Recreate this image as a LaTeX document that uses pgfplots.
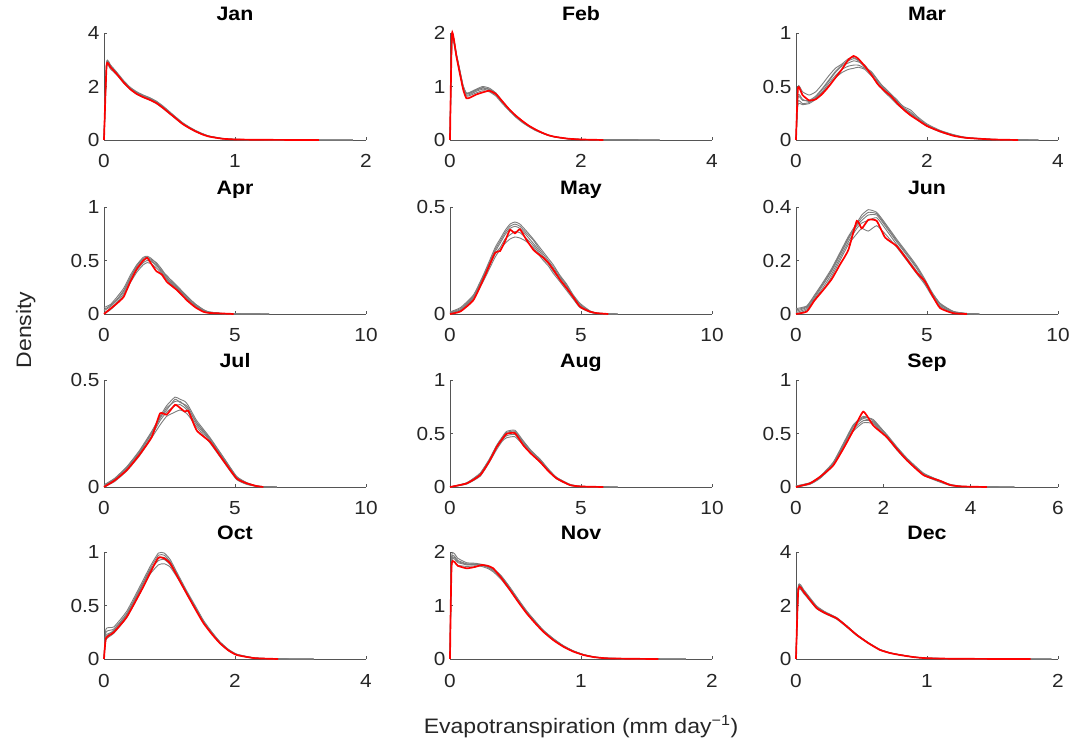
\documentclass[border=0pt]{standalone}
\usepackage{fontspec}
\setmainfont{Liberation Sans}[FakeStretch=1.1]
\usepackage{pgfplots}
\usepackage{pgfplotstable}
\pgfplotsset{compat=1.18}

\definecolor{ens}{RGB}{125,125,125}
\definecolor{axisgray}{RGB}{85,85,85}
\definecolor{tickgray}{RGB}{38,38,38}

\newcommand{\tickfont}{\fontsize{19}{21}\selectfont}
\newcommand{\titlefont}{\fontsize{19.5}{22}\selectfont\bfseries}
\newcommand{\labelfont}{\fontsize{21}{25}\selectfont}

% x, five ensemble members (g1..g5), observed density (r)
\pgfplotstableread{
x     g1    g2    g3    g4    g5    r
0     0     0     0     0     0     0
0.02  2.90  2.84  2.78  2.72  2.87  2.80
0.05  2.80  2.76  2.70  2.65  2.78  2.72
0.1   2.52  2.49  2.46  2.42  2.50  2.45
0.15  2.22  2.19  2.17  2.13  2.20  2.15
0.2   1.97  1.95  1.92  1.89  1.96  1.90
0.25  1.80  1.77  1.75  1.71  1.79  1.72
0.3   1.68  1.65  1.63  1.59  1.67  1.60
0.35  1.58  1.55  1.53  1.49  1.57  1.50
0.4   1.45  1.42  1.40  1.36  1.44  1.38
0.45  1.27  1.24  1.22  1.18  1.26  1.20
0.5   1.06  1.03  1.01  0.98  1.05  1.00
0.55  0.85  0.83  0.81  0.78  0.84  0.80
0.6   0.65  0.63  0.62  0.59  0.64  0.60
0.65  0.49  0.47  0.46  0.44  0.48  0.45
0.7   0.35  0.34  0.33  0.31  0.35  0.32
0.75  0.24  0.23  0.22  0.21  0.24  0.21
0.8   0.15  0.14  0.14  0.13  0.15  0.13
0.9   0.06  0.055 0.05  0.045 0.06  0.05
1.0   0.025 0.022 0.02  0.018 0.024 0.02
1.2   0.01  0.009 0.008 0.007 0.01  0.008
1.4   0.004 0.003 0.003 0.002 0.004 0.003
1.64  0.001 0.001 0.001 0     0.001 0
1.9   0     0     0     0     0     nan
}\tabJan

\pgfplotstableread{
x     g1    g2    g3    g4    g5    r
0     0     0     0     0     0     0
0.03  1.98  1.95  1.92  1.88  1.96  1.99
0.1   1.60  1.58  1.56  1.53  1.59  1.55
0.2   1.02  1.00  0.98  0.96  1.01  0.95
0.25  0.88  0.86  0.84  0.82  0.87  0.78
0.3   0.89  0.87  0.85  0.83  0.88  0.79
0.4   0.95  0.93  0.91  0.88  0.94  0.85
0.5   1.00  0.97  0.95  0.92  0.98  0.89
0.6   0.97  0.94  0.92  0.90  0.95  0.92
0.7   0.88  0.86  0.84  0.82  0.87  0.86
0.8   0.73  0.71  0.70  0.68  0.72  0.72
0.9   0.58  0.57  0.56  0.55  0.58  0.58
1.0   0.46  0.45  0.44  0.43  0.46  0.46
1.1   0.36  0.35  0.34  0.33  0.36  0.36
1.2   0.27  0.26  0.26  0.25  0.27  0.27
1.3   0.20  0.19  0.19  0.18  0.20  0.20
1.4   0.14  0.135 0.13  0.13  0.14  0.14
1.5   0.095 0.09  0.09  0.085 0.09  0.09
1.6   0.06  0.06  0.055 0.055 0.06  0.06
1.8   0.025 0.024 0.022 0.02  0.025 0.025
2.0   0.01  0.01  0.009 0.008 0.01  0.01
2.34  0.003 0.003 0.002 0.002 0.003 0
2.8   0.001 0.001 0.001 0     0.001 nan
3.2   0     0     0     0     0     nan
}\tabFeb

\pgfplotstableread{
x     g1    g2    g3    g4    g5    r
0     0     0     0     0     0     0
0.03  0.50  0.42  0.36  0.33  0.40  0.49
0.1   0.45  0.38  0.34  0.33  0.37  0.42
0.2   0.42  0.36  0.35  0.34  0.37  0.37
0.3   0.45  0.40  0.39  0.38  0.41  0.38
0.4   0.52  0.47  0.45  0.44  0.48  0.43
0.5   0.60  0.55  0.53  0.51  0.56  0.50
0.6   0.67  0.63  0.60  0.58  0.64  0.58
0.7   0.71  0.69  0.66  0.63  0.70  0.66
0.8   0.76  0.72  0.69  0.66  0.74  0.75
0.88  0.77  0.74  0.70  0.67  0.76  0.785
0.95  0.74  0.73  0.70  0.68  0.75  0.76
1.05  0.68  0.70  0.67  0.66  0.69  0.69
1.15  0.64  0.62  0.63  0.60  0.61  0.61
1.25  0.56  0.53  0.55  0.54  0.52  0.52
1.35  0.48  0.46  0.49  0.47  0.45  0.46
1.45  0.42  0.40  0.43  0.41  0.39  0.41
1.55  0.36  0.34  0.37  0.35  0.33  0.34
1.65  0.31  0.29  0.30  0.29  0.28  0.28
1.75  0.28  0.25  0.26  0.24  0.24  0.23
1.85  0.22  0.20  0.21  0.19  0.19  0.19
2.0   0.15  0.14  0.14  0.13  0.13  0.13
2.2   0.09  0.08  0.085 0.08  0.075 0.08
2.4   0.05  0.045 0.05  0.045 0.04  0.04
2.6   0.02  0.02  0.025 0.02  0.018 0.02
3.0   0.006 0.005 0.006 0.005 0.004 0.005
3.39  0.001 0.001 0.001 0.001 0     0
3.7   0     0     0     0     0     nan
}\tabMar

\pgfplotstableread{
x     g1    g2    g3    g4    g5    r
0     0.06  0.03  0.01  0     0.04  0
0.25  0.09  0.07  0.05  0.04  0.08  0.05
0.5   0.16  0.13  0.11  0.10  0.14  0.10
0.75  0.24  0.21  0.19  0.17  0.22  0.16
1.0   0.36  0.33  0.31  0.29  0.34  0.30
1.25  0.46  0.44  0.41  0.39  0.45  0.42
1.5   0.53  0.50  0.48  0.46  0.52  0.50
1.65  0.54  0.52  0.50  0.48  0.53  0.525
1.8   0.52  0.50  0.49  0.47  0.51  0.47
2.0   0.47  0.45  0.46  0.43  0.48  0.40
2.2   0.40  0.41  0.39  0.38  0.42  0.37
2.4   0.36  0.34  0.33  0.32  0.35  0.30
2.6   0.30  0.28  0.29  0.27  0.31  0.26
2.8   0.25  0.23  0.24  0.22  0.26  0.22
3.0   0.20  0.18  0.19  0.17  0.21  0.17
3.2   0.15  0.13  0.14  0.13  0.16  0.12
3.5   0.09  0.08  0.08  0.07  0.09  0.06
3.8   0.04  0.03  0.035 0.03  0.04  0.02
4.0   0.02  0.015 0.015 0.012 0.02  0.01
4.5   0.005 0.004 0.004 0.003 0.005 0.005
4.95  0.002 0.001 0.001 0.001 0.002 0
5.5   0.001 0     0     0     0.001 nan
6.3   0     0     0     0     0     nan
}\tabApr

\pgfplotstableread{
x     g1    g2    g3    g4    g5    r
0     0.01  0.005 0.003 0     0.008 0
0.4   0.03  0.02  0.018 0.015 0.025 0.012
0.9   0.09  0.08  0.075 0.07  0.085 0.066
1.3   0.19  0.18  0.17  0.16  0.185 0.17
1.72  0.31  0.29  0.28  0.265 0.30  0.286
1.91  0.35  0.33  0.31  0.30  0.34  0.294
2.1   0.39  0.37  0.35  0.33  0.38  0.34
2.29  0.42  0.40  0.37  0.35  0.41  0.393
2.48  0.43  0.41  0.385 0.36  0.42  0.377
2.67  0.42  0.40  0.38  0.355 0.41  0.396
2.9   0.39  0.37  0.355 0.34  0.38  0.35
3.18  0.35  0.33  0.32  0.31  0.345 0.30
3.37  0.32  0.30  0.29  0.28  0.31  0.28
3.56  0.29  0.27  0.26  0.25  0.28  0.263
3.75  0.26  0.24  0.235 0.225 0.25  0.24
3.94  0.23  0.21  0.20  0.19  0.22  0.208
4.2   0.18  0.17  0.16  0.15  0.175 0.16
4.45  0.14  0.13  0.12  0.11  0.135 0.121
4.7   0.09  0.08  0.075 0.07  0.085 0.08
4.96  0.05  0.04  0.035 0.03  0.045 0.034
5.34  0.015 0.012 0.01  0.008 0.013 0.011
5.6   0.005 0.004 0.003 0.002 0.004 0.004
6.04  0.001 0     0     0     0.001 0
6.4   0     0     0     0     0     nan
}\tabMay

\pgfplotstableread{
x     g1    g2    g3    g4    g5    r
0     0.02  0.01  0.005 0     0.015 0
0.41  0.03  0.025 0.02  0.015 0.028 0.009
0.7   0.07  0.06  0.055 0.05  0.065 0.05
1.04  0.12  0.11  0.10  0.09  0.115 0.09
1.36  0.17  0.16  0.15  0.14  0.165 0.13
1.68  0.23  0.22  0.21  0.20  0.225 0.185
2.0   0.29  0.28  0.27  0.26  0.285 0.24
2.32  0.34  0.33  0.32  0.30  0.335 0.348
2.51  0.37  0.35  0.34  0.32  0.36  0.32
2.76  0.39  0.37  0.35  0.31  0.38  0.352
3.08  0.38  0.37  0.36  0.33  0.375 0.348
3.4   0.34  0.33  0.32  0.30  0.335 0.286
3.84  0.28  0.27  0.26  0.25  0.275 0.254
4.23  0.23  0.22  0.21  0.20  0.225 0.204
4.61  0.18  0.17  0.16  0.15  0.175 0.154
4.92  0.13  0.12  0.115 0.11  0.125 0.122
5.2   0.08  0.075 0.07  0.065 0.078 0.07
5.5   0.04  0.035 0.03  0.028 0.038 0.022
6.0   0.01  0.008 0.006 0.005 0.009 0.003
6.52  0.002 0.001 0.001 0     0.002 0
7.0   0     0     0     0     0     nan
}\tabJun

\pgfplotstableread{
x     g1    g2    g3    g4    g5    r
0     0.01  0.005 0     0     0.008 0
0.4   0.04  0.035 0.03  0.025 0.038 0.03
0.87  0.095 0.09  0.085 0.075 0.092 0.079
1.35  0.17  0.16  0.155 0.145 0.165 0.15
1.82  0.26  0.25  0.24  0.23  0.255 0.233
2.14  0.33  0.32  0.31  0.29  0.325 0.344
2.39  0.38  0.37  0.35  0.33  0.36  0.338
2.71  0.42  0.40  0.38  0.35  0.41  0.384
2.9   0.41  0.40  0.385 0.36  0.395 0.37
3.09  0.40  0.38  0.37  0.35  0.385 0.352
3.22  0.38  0.36  0.35  0.335 0.37  0.356
3.54  0.31  0.30  0.29  0.28  0.30  0.264
4.05  0.23  0.22  0.215 0.205 0.225 0.21
4.55  0.14  0.135 0.13  0.12  0.14  0.125
5.06  0.05  0.045 0.04  0.035 0.048 0.04
5.45  0.02  0.018 0.015 0.012 0.02  0.017
5.8   0.006 0.005 0.004 0.003 0.006 0.005
6.08  0.002 0.001 0.001 0     0.002 0
6.6   0     0     0     0     0     nan
}\tabJul

\pgfplotstableread{
x     g1    g2    g3    g4    g5    r
0     0     0     0     0     0     0
0.64  0.04  0.035 0.03  0.028 0.038 0.034
1.15  0.13  0.12  0.11  0.10  0.125 0.111
1.5   0.26  0.25  0.24  0.23  0.255 0.24
1.78  0.39  0.38  0.37  0.35  0.385 0.373
2.0   0.47  0.46  0.44  0.43  0.465 0.45
2.16  0.52  0.50  0.48  0.46  0.51  0.497
2.48  0.53  0.51  0.49  0.47  0.52  0.503
2.8   0.43  0.41  0.40  0.39  0.42  0.389
3.1   0.34  0.33  0.32  0.31  0.335 0.31
3.44  0.26  0.25  0.24  0.23  0.255 0.234
3.75  0.17  0.16  0.155 0.15  0.165 0.15
4.07  0.09  0.085 0.08  0.075 0.088 0.08
4.58  0.025 0.02  0.018 0.015 0.022 0.018
5.0   0.007 0.005 0.004 0.003 0.006 0.005
5.85  0.001 0     0     0     0.001 0
6.4   0     0     0     0     0     nan
}\tabAug

\pgfplotstableread{
x     g1    g2    g3    g4    g5    r
0     0.01  0.005 0     0     0.008 0
0.32  0.04  0.035 0.03  0.025 0.038 0.034
0.55  0.10  0.09  0.085 0.08  0.095 0.095
0.85  0.23  0.22  0.21  0.20  0.225 0.2
1.1   0.42  0.40  0.39  0.37  0.41  0.37
1.31  0.58  0.56  0.54  0.52  0.57  0.528
1.54  0.66  0.64  0.62  0.60  0.65  0.704
1.77  0.62  0.60  0.61  0.59  0.63  0.574
2.08  0.49  0.47  0.48  0.46  0.485 0.466
2.3   0.38  0.37  0.36  0.35  0.375 0.36
2.54  0.27  0.26  0.255 0.245 0.265 0.25
2.92  0.13  0.12  0.115 0.11  0.125 0.111
3.3   0.06  0.055 0.05  0.045 0.058 0.058
3.53  0.025 0.02  0.018 0.015 0.022 0.018
3.8   0.007 0.005 0.004 0.003 0.006 0.005
4.37  0.001 0.001 0     0     0.001 0
5.0   0     0     0     0     0     nan
}\tabSep

\pgfplotstableread{
x     g1    g2    g3    g4    g5    r
0     0     0     0     0     0     0
0.03  0.28  0.25  0.22  0.18  0.20  0.193
0.15  0.30  0.28  0.26  0.24  0.27  0.25
0.35  0.45  0.43  0.41  0.39  0.42  0.395
0.6   0.74  0.72  0.70  0.67  0.71  0.676
0.7   0.86  0.84  0.82  0.79  0.83  0.80
0.83  0.99  0.97  0.94  0.88  0.92  0.947
0.92  0.99  0.97  0.95  0.89  0.93  0.94
1.01  0.93  0.91  0.90  0.86  0.88  0.894
1.13  0.79  0.78  0.77  0.75  0.76  0.76
1.26  0.64  0.63  0.62  0.61  0.625 0.614
1.4   0.49  0.48  0.47  0.46  0.475 0.46
1.52  0.36  0.35  0.345 0.34  0.35  0.334
1.65  0.25  0.245 0.24  0.235 0.245 0.23
1.77  0.16  0.155 0.15  0.145 0.16  0.147
1.9   0.09  0.085 0.08  0.078 0.088 0.08
2.03  0.045 0.04  0.038 0.036 0.042 0.037
2.3   0.01  0.009 0.008 0.007 0.01  0.008
2.66  0.001 0.001 0.001 0     0.001 0
3.2   0     0     0     0     0     nan
}\tabOct

\pgfplotstableread{
x     g1    g2    g3    g4    g5    r
0     0     0     0     0     0     0
0.013 1.93  1.88  1.82  1.76  1.85  1.776
0.06  1.88  1.84  1.80  1.75  1.82  1.74
0.127 1.80  1.78  1.76  1.73  1.77  1.695
0.19  1.79  1.78  1.76  1.74  1.77  1.72
0.242 1.77  1.76  1.75  1.73  1.76  1.757
0.29  1.74  1.72  1.71  1.69  1.73  1.74
0.33  1.69  1.67  1.65  1.63  1.68  1.695
0.39  1.56  1.53  1.51  1.49  1.55  1.52
0.458 1.34  1.32  1.30  1.28  1.33  1.29
0.52  1.12  1.10  1.09  1.07  1.11  1.07
0.585 0.90  0.88  0.87  0.86  0.89  0.854
0.65  0.71  0.70  0.69  0.68  0.705 0.67
0.712 0.54  0.53  0.52  0.51  0.535 0.51
0.79  0.38  0.37  0.36  0.355 0.375 0.35
0.865 0.25  0.245 0.24  0.235 0.248 0.23
0.94  0.155 0.15  0.145 0.14  0.152 0.14
1.018 0.085 0.082 0.08  0.077 0.084 0.075
1.1   0.04  0.038 0.036 0.034 0.039 0.035
1.196 0.015 0.014 0.013 0.012 0.015 0.013
1.4   0.004 0.004 0.003 0.003 0.004 0.004
1.59  0.001 0.001 0.001 0     0.001 0
1.8   0     0     0     0     0     nan
}\tabNov

\pgfplotstableread{
x     g1    g2    g3    g4    g5    r
0     0     0     0     0     0     0
0.018 2.74  2.68  2.62  2.56  2.70  2.64
0.06  2.58  2.53  2.48  2.44  2.55  2.5
0.1   2.33  2.29  2.25  2.21  2.31  2.25
0.158 1.98  1.95  1.91  1.88  1.96  1.9
0.22  1.77  1.75  1.72  1.70  1.76  1.72
0.31  1.55  1.53  1.51  1.49  1.54  1.52
0.38  1.27  1.26  1.24  1.22  1.27  1.25
0.463 0.92  0.91  0.89  0.88  0.915 0.90
0.55  0.62  0.61  0.60  0.59  0.615 0.60
0.64  0.36  0.35  0.345 0.34  0.355 0.34
0.72  0.23  0.225 0.22  0.215 0.228 0.22
0.794 0.16  0.155 0.15  0.145 0.158 0.15
0.9   0.075 0.072 0.07  0.068 0.074 0.07
0.998 0.033 0.031 0.03  0.029 0.032 0.03
1.2   0.011 0.01  0.01  0.009 0.011 0.01
1.5   0.003 0.003 0.003 0.002 0.003 0.003
1.79  0.001 0.001 0     0     0.001 0
1.95  0     0     0     0     0     nan
}\tabDec

\pgfplotsset{
  panel/.style={
    scale only axis, width=262bp, height=107bp,
    anchor=south west,
    axis lines=left,
    axis line style={-, draw=axisgray, line width=0.6bp},
    tick align=inside, major tick length=3bp,
    tick style={draw=axisgray, line width=0.6bp},
    ticklabel style={font=\tickfont, text=tickgray},
    xticklabel style={anchor=base, yshift=-28bp},
    yticklabel style={anchor=east, xshift=-1bp},
    title style={font=\titlefont, at={(0.5,1)}, anchor=base, yshift=7bp},
    clip=false,
    /pgf/number format/assume math mode=true,
    /pgf/number format/fixed,
  },
}

\newcommand{\ensemble}[1]{%
  \addplot[ens, line width=0.9bp, smooth, tension=0.3] table[x=x, y=g1] {#1};
  \addplot[ens, line width=0.9bp, smooth, tension=0.3] table[x=x, y=g2] {#1};
  \addplot[ens, line width=0.9bp, smooth, tension=0.3] table[x=x, y=g3] {#1};
  \addplot[ens, line width=0.9bp, smooth, tension=0.3] table[x=x, y=g4] {#1};
  \addplot[ens, line width=0.9bp, smooth, tension=0.3] table[x=x, y=g5] {#1};
  \addplot[red, line width=1.7bp, smooth, tension=0.3] table[x=x, y=r] {#1};
}

\begin{document}
\begin{tikzpicture}
\useasboundingbox (0,0) rectangle (1069bp,741bp);

% row 1
\begin{axis}[panel, at={(104bp,601bp)}, title={Jan},
  xmin=0, xmax=2, ymin=0, ymax=4, xtick={0,1,2}, ytick={0,2,4}]
\ensemble{\tabJan}
\end{axis}
\begin{axis}[panel, at={(450bp,601bp)}, title={Feb},
  xmin=0, xmax=4, ymin=0, ymax=2, xtick={0,2,4}, ytick={0,1,2}]
\ensemble{\tabFeb}
\end{axis}
\begin{axis}[panel, at={(796bp,601bp)}, title={Mar},
  xmin=0, xmax=4, ymin=0, ymax=1, xtick={0,2,4}, ytick={0,0.5,1}]
\ensemble{\tabMar}
\end{axis}

% row 2
\begin{axis}[panel, at={(104bp,427bp)}, title={Apr},
  xmin=0, xmax=10, ymin=0, ymax=1, xtick={0,5,10}, ytick={0,0.5,1}]
\ensemble{\tabApr}
\end{axis}
\begin{axis}[panel, at={(450bp,427bp)}, title={May},
  xmin=0, xmax=10, ymin=0, ymax=0.5, xtick={0,5,10}, ytick={0,0.5}]
\ensemble{\tabMay}
\end{axis}
\begin{axis}[panel, at={(796bp,427bp)}, title={Jun},
  xmin=0, xmax=10, ymin=0, ymax=0.4, xtick={0,5,10}, ytick={0,0.2,0.4}]
\ensemble{\tabJun}
\end{axis}

% row 3
\begin{axis}[panel, at={(104bp,254bp)}, title={Jul},
  xmin=0, xmax=10, ymin=0, ymax=0.5, xtick={0,5,10}, ytick={0,0.5}]
\ensemble{\tabJul}
\end{axis}
\begin{axis}[panel, at={(450bp,254bp)}, title={Aug},
  xmin=0, xmax=10, ymin=0, ymax=1, xtick={0,5,10}, ytick={0,0.5,1}]
\ensemble{\tabAug}
\end{axis}
\begin{axis}[panel, at={(796bp,254bp)}, title={Sep},
  xmin=0, xmax=6, ymin=0, ymax=1, xtick={0,2,4,6}, ytick={0,0.5,1}]
\ensemble{\tabSep}
\end{axis}

% row 4
\begin{axis}[panel, at={(104bp,82bp)}, title={Oct},
  xmin=0, xmax=4, ymin=0, ymax=1, xtick={0,2,4}, ytick={0,0.5,1}]
\ensemble{\tabOct}
\end{axis}
\begin{axis}[panel, at={(450bp,82bp)}, title={Nov},
  xmin=0, xmax=2, ymin=0, ymax=2, xtick={0,1,2}, ytick={0,1,2}]
\ensemble{\tabNov}
\end{axis}
\begin{axis}[panel, at={(796bp,82bp)}, title={Dec},
  xmin=0, xmax=2, ymin=0, ymax=4, xtick={0,1,2}, ytick={0,2,4}]
\ensemble{\tabDec}
\end{axis}

% shared axis labels
\node[font=\labelfont, text=tickgray, anchor=base] at (581bp,8bp)
  {Evapotranspiration (mm day\textsuperscript{−1})};
\node[font=\labelfont, text=tickgray, rotate=90, anchor=base] at (31bp,411bp) {Density};
\end{tikzpicture}
\end{document}
